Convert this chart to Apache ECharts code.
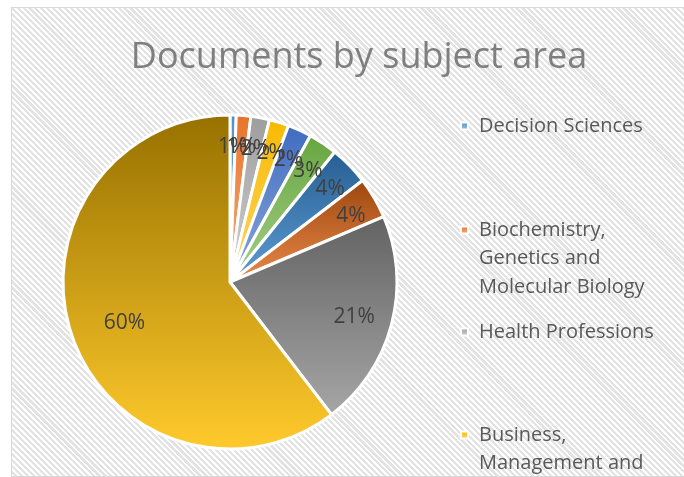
<!DOCTYPE html>
<html>
<head>
<meta charset="utf-8">
<script src="https://cdn.jsdelivr.net/npm/echarts@6/dist/echarts.min.js"></script>
<style>
  html, body { margin: 0; padding: 0; background: #ffffff; }
  #frame {
    position: absolute; left: 11px; top: 7px; width: 720px; height: 468px;
    border: 1px solid #d9d9d9;
    background: repeating-linear-gradient(45deg, #ffffff 0px, #ffffff 2px, #e3e3e3 2px, #e3e3e3 4.2px);
  }
  #chart { position: absolute; left: 0; top: 0; width: 684px; height: 477px; }
</style>
</head>
<body>
<div id="frame"></div>
<div id="chart"></div>
<script>
// ---- data ----
const titleText = 'Documents by subject area';
const categories = [
  'Decision Sciences',
  'Biochemistry, Genetics and Molecular Biology',
  'Health Professions',
  'Business, Management and Accounting',
  'Economics, Econometrics and Finance',
  'Engineering',
  'Computer Science',
  'Psychology',
  'Social Sciences',
  'Medicine'
];
const shares = [0.6, 1.4, 1.8, 1.9, 2.3, 2.8, 3.8, 4.0, 21.0, 60.4];
// legend entries visible in the picture (wrapped as in the reference)
const legendShown = [
  'Decision Sciences',
  'Biochemistry, Genetics and Molecular Biology',
  'Health Professions',
  'Business, Management and Accounting'
];
const legendWrapped = {
  'Decision Sciences': ['Decision Sciences'],
  'Biochemistry, Genetics and Molecular Biology': ['Biochemistry,', 'Genetics and', 'Molecular Biology'],
  'Health Professions': ['Health Professions'],
  'Business, Management and Accounting': ['Business,', 'Management and', 'Accounting']
};

// ---- styles ----
const colorTop = ['#4f8fce', '#e8732a', '#9d9d9d', '#f7b900', '#3f6bc0', '#67a53e', '#255e91', '#9c470d', '#626262', '#977100'];
const colorBottom = ['#9cc3e6', '#f4ad7e', '#d2d2d2', '#ffd763', '#8ea9db', '#a6cf8b', '#5f9dd6', '#ec8a4c', '#a6a6a6', '#ffca2c'];
const R = 167;
const CX = 230, CY = 282;
const legendCenters = [126, 230, 332, 435];
const LH = 28.5;

function grad(i) {
  return new echarts.graphic.LinearGradient(0, 0, 0, 1, [
    { offset: 0, color: colorTop[i] },
    { offset: 1, color: colorBottom[i] }
  ]);
}

const mainData = categories.map((n, i) => ({ name: n, value: shares[i], itemStyle: { color: grad(i) } }));

function labelSeries(radius, pick, dy) {
  return {
    type: 'pie', silent: true, center: [CX, CY], radius: radius,
    startAngle: 90, clockwise: true, percentPrecision: 0,
    avoidLabelOverlap: false, emphasis: { disabled: true },
    labelLayout: { hideOverlap: false, moveOverlap: null },
    itemStyle: { color: 'rgba(0,0,0,0)', borderWidth: 0 },
    labelLine: { show: false },
    z: 3,
    data: categories.map((n, i) => ({
      name: n, value: shares[i],
      label: {
        show: pick(shares[i]), position: 'inside', formatter: '{d}%',
        color: '#404040', fontSize: 21, fontFamily: 'Open Sans', overflow: 'none',
        offset: [0, dy]
      }
    }))
  };
}

const legends = legendShown.map((name, k) => {
  const lines = legendWrapped[name];
  const nLines = lines.length === 1 ? 1 : 2 * lines.length - 1;
  const padTop = lines.length === 1 ? '' : '\n'.repeat(lines.length - 1);
  return {
    data: [name], orient: 'vertical', left: 460, padding: 0,
    top: legendCenters[k] - (nLines * LH) / 2,
    icon: 'rect', itemWidth: 7, itemHeight: 7,
    selectedMode: false,
    formatter: () => padTop + lines.join('\n'),
    textStyle: { color: '#595959', fontSize: 20, fontFamily: 'Open Sans', lineHeight: LH, padding: [0, 0, 0, 6] }
  };
});

const chart = echarts.init(document.getElementById('chart'), null, { renderer: 'canvas' });
chart.setOption({
  animation: false,
  backgroundColor: 'transparent',
  title: {
    text: titleText, left: 354, top: 35, textAlign: 'center',
    textStyle: { color: '#7f7f7f', fontSize: 36, fontWeight: 'normal', fontFamily: 'Open Sans' }
  },
  legend: legends,
  series: [
    {
      type: 'pie', center: [CX, CY], radius: [0, R],
      startAngle: 90, clockwise: true, percentPrecision: 0,
      itemStyle: { borderColor: '#ffffff', borderWidth: 3 },
      label: { show: false }, labelLine: { show: false },
      emphasis: { disabled: true },
      data: mainData
    },
    labelSeries([102, 172], v => v < 10, 5),
    labelSeries([84, 167], v => v >= 10 && v < 50, 2),
    labelSeries([50, 167], v => v >= 50, 5)
  ]
});
</script>
</body>
</html>
